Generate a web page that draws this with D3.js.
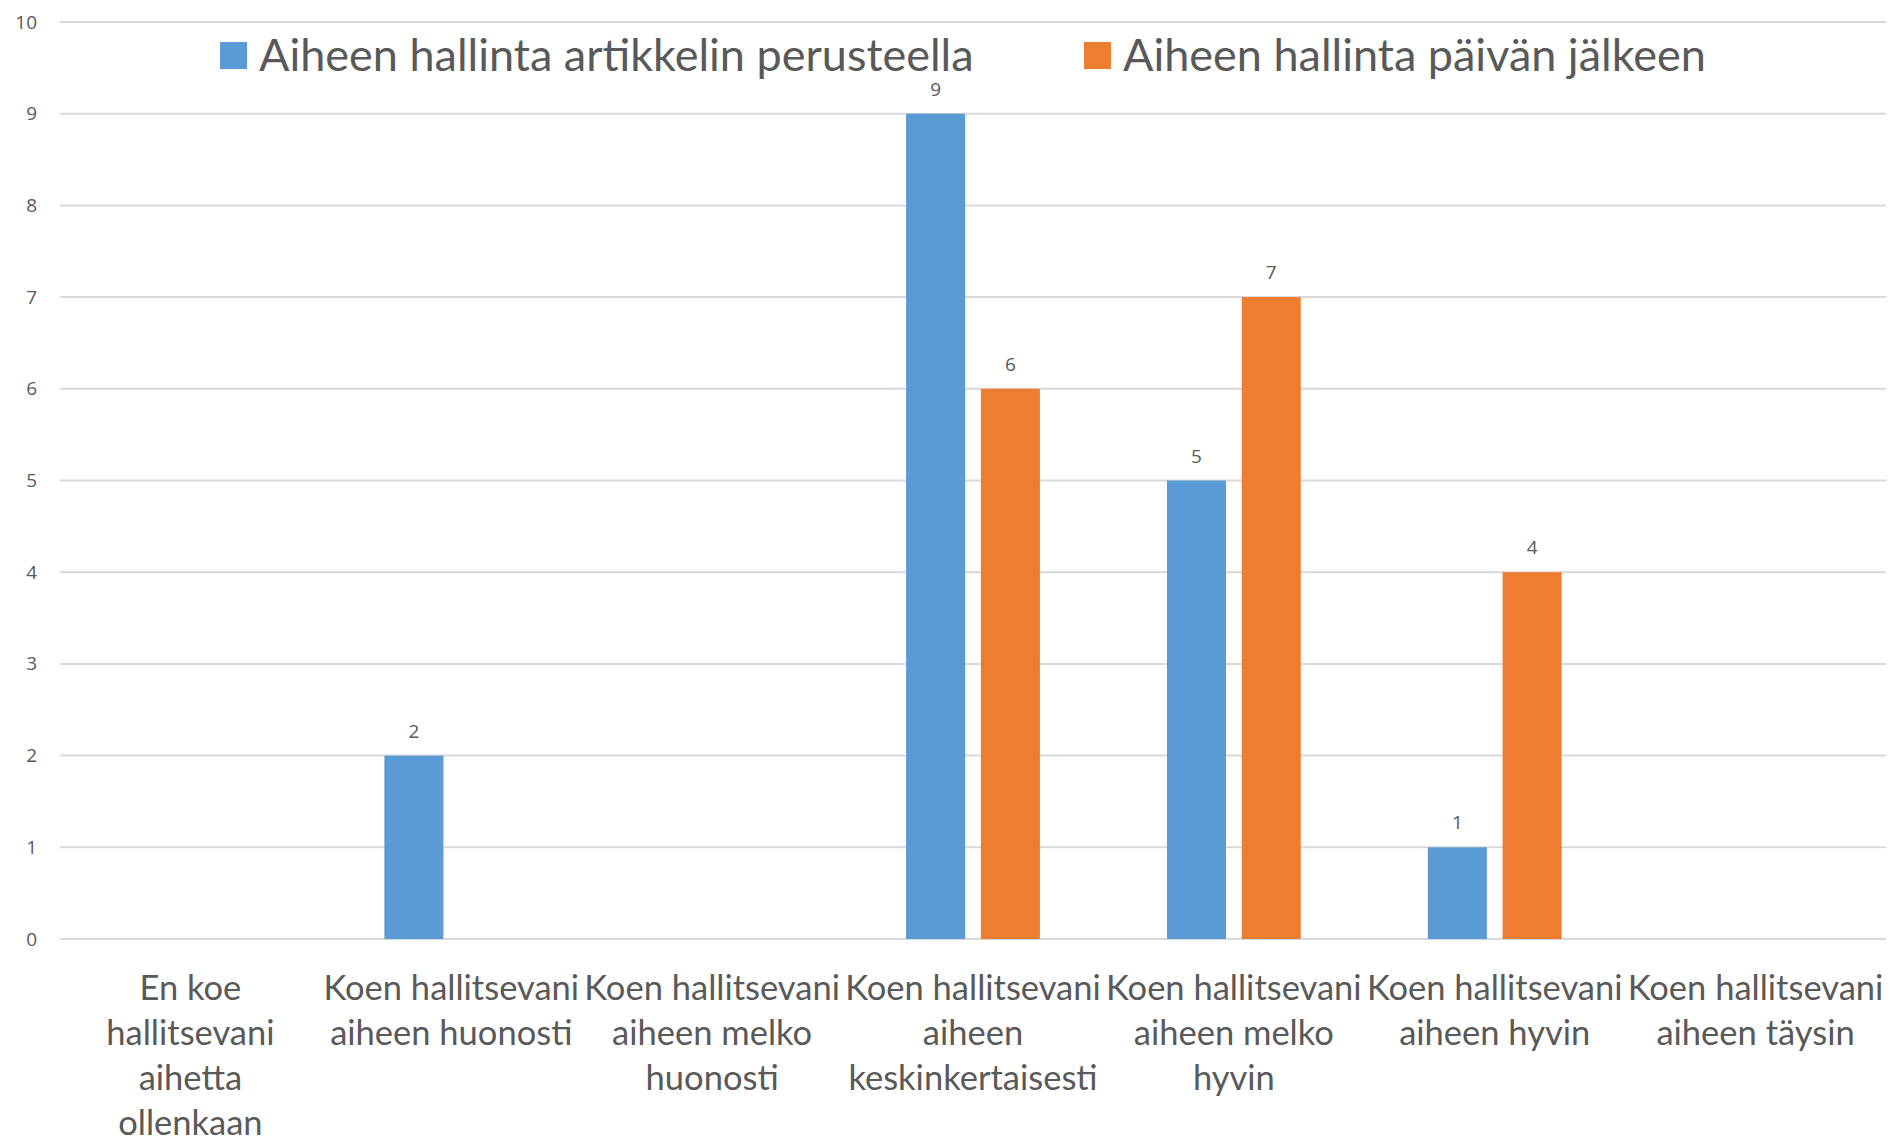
<!DOCTYPE html>
<html>
<head>
<meta charset="utf-8">
<script src="https://cdn.jsdelivr.net/npm/d3@7"></script>
<style>
  body { margin: 0; background: #fff; }
  text { font-family: Lato, "Noto Sans", sans-serif; fill: #595959; }
  .small { font-family: "Open Sans", "Noto Sans", sans-serif; }
</style>
</head>
<body>
<div id="chart"></div>
<script>
// data
var categories = ["c1", "c2", "c3", "c4", "c5", "c6", "c7"];
var categoryLines = [
  ["En koe", "hallitsevani", "aihetta", "ollenkaan"],
  ["Koen hallitsevani", "aiheen huonosti"],
  ["Koen hallitsevani", "aiheen melko", "huonosti"],
  ["Koen hallitsevani", "aiheen", "keskinkertaisesti"],
  ["Koen hallitsevani", "aiheen melko", "hyvin"],
  ["Koen hallitsevani", "aiheen hyvin"],
  ["Koen hallitsevani", "aiheen täysin"]
];
var seriesNames = ["Aiheen hallinta artikkelin perusteella", "Aiheen hallinta päivän jälkeen"];
var seriesColors = ["#5B9BD5", "#ED7D31"];
var valuesArtikkeli = [0, 2, 0, 9, 5, 1, 0];
var valuesPaiva = [0, 0, 0, 6, 7, 4, 0];
var yTicks = [0, 1, 2, 3, 4, 5, 6, 7, 8, 9, 10];

var W = 1890, H = 1138;
var margin = {top: 22, right: 4, bottom: 199, left: 60};
var width = W - margin.left - margin.right,
    height = H - margin.top - margin.bottom;

var svg = d3.select("#chart").append("svg")
  .attr("width", W)
  .attr("height", H);

var g = svg.append("g")
  .attr("transform", "translate(" + margin.left + "," + margin.top + ")");

// scales
var x0 = d3.scaleBand().domain(categories).range([0, width]).padding(0);
var bw = x0.bandwidth();
var groupW = bw * 0.513;
var x1 = d3.scaleBand().domain([0, 1])
  .range([(bw - groupW) / 2, (bw + groupW) / 2])
  .paddingInner(0.21).paddingOuter(0);
var y = d3.scaleLinear().domain([0, 10]).range([height, 0]);

// gridlines
g.selectAll(".grid").data(yTicks).enter()
  .append("line")
  .attr("x1", 0).attr("x2", width)
  .attr("y1", function(d) { return y(d); })
  .attr("y2", function(d) { return y(d); })
  .attr("stroke", "#d9d9d9")
  .attr("stroke-width", 2);

// y axis labels
var yAxis = d3.axisLeft(y).tickValues(yTicks).tickSize(0).tickPadding(23);
var ya = g.append("g").call(yAxis);
ya.select(".domain").remove();
ya.selectAll("text").attr("class", "small").style("font-size", "19px").attr("fill", "#595959")
  .style("font-family", "'Open Sans', 'Noto Sans', sans-serif");

// bars
var rows = categories.map(function(c, i) {
  return {cat: c, vals: [valuesArtikkeli[i], valuesPaiva[i]]};
});

var groups = g.selectAll(".grp").data(rows).enter()
  .append("g")
  .attr("transform", function(d) { return "translate(" + x0(d.cat) + ",0)"; });

groups.selectAll("rect").data(function(d) {
    return d.vals.map(function(v, k) { return {k: k, v: v}; });
  }).enter()
  .append("rect")
  .attr("x", function(d) { return x1(d.k); })
  .attr("width", x1.bandwidth())
  .attr("y", function(d) { return y(d.v); })
  .attr("height", function(d) { return height - y(d.v); })
  .attr("fill", function(d) { return seriesColors[d.k]; });

// data labels (zero values hidden)
groups.selectAll(".lbl").data(function(d) {
    return d.vals.map(function(v, k) { return {k: k, v: v}; })
      .filter(function(d) { return d.v > 0; });
  }).enter()
  .append("text")
  .attr("class", "small")
  .attr("x", function(d) { return x1(d.k) + x1.bandwidth() / 2; })
  .attr("y", function(d) { return y(d.v) - 18; })
  .attr("text-anchor", "middle")
  .style("font-size", "19px")
  .attr("fill", "#404040")
  .text(function(d) { return d.v; });

// category labels
var xl = g.append("g").attr("transform", "translate(0," + height + ")");
categories.forEach(function(c, i) {
  var t = xl.append("text")
    .attr("x", x0(c) + bw / 2)
    .attr("y", 60)
    .attr("text-anchor", "middle")
    .style("font-size", "34.5px");
  categoryLines[i].forEach(function(line, j) {
    t.append("tspan")
      .attr("x", x0(c) + bw / 2)
      .attr("y", 61 + j * 45)
      .text(line);
  });
});

// legend
var legendX = [220, 1084];
var leg = svg.append("g");
seriesNames.forEach(function(s, i) {
  leg.append("rect")
    .attr("x", legendX[i]).attr("y", 42)
    .attr("width", 27).attr("height", 27)
    .attr("fill", seriesColors[i]);
  leg.append("text")
    .attr("x", legendX[i] + 39).attr("y", 71)
    .style("font-size", "45px")
    .text(s);
});
</script>
</body>
</html>
